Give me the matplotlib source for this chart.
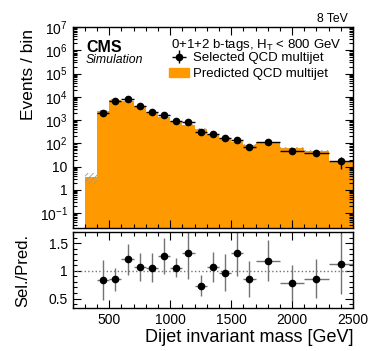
import numpy as np
import matplotlib
matplotlib.use('Agg')
import matplotlib.pyplot as plt
from matplotlib.ticker import FuncFormatter, LogLocator, MultipleLocator
from matplotlib.patches import Patch

plt.rcParams['font.family'] = ['Liberation Sans', 'DejaVu Sans']
plt.rcParams['mathtext.fontset'] = 'custom'
plt.rcParams['mathtext.rm'] = 'Liberation Sans'
plt.rcParams['mathtext.it'] = 'Liberation Sans:italic'
plt.rcParams['hatch.linewidth'] = 0.6

# Bordas dos bins (GeV)
bordas = np.array([300, 400, 500, 600, 700, 800, 900, 1000, 1100, 1200, 1300,
                   1400, 1500, 1600, 1700, 1900, 2100, 2300, 2500])

# Predicao (histograma laranja), um valor por bin
predito = [3.5, 2400, 7600, 6400, 3900, 2200, 1320, 870, 610, 410, 240,
           167, 115, 84, 110, 62, 46, 16]
predito_err_rel = [0.5, 0.08, 0.06, 0.06, 0.06, 0.06, 0.07, 0.07, 0.07, 0.08,
                   0.08, 0.08, 0.09, 0.09, 0.09, 0.1, 0.1, 0.12]

# Selecionados (pontos pretos), sem o primeiro bin
centros = [450, 550, 650, 750, 850, 950, 1050, 1150, 1250, 1350, 1450, 1550,
           1650, 1800, 2000, 2200, 2400]
meia_largura = [50] * 13 + [100] * 4
selecionado = [2000, 6670, 8130, 4190, 2320, 1670, 925, 813, 302, 257, 162,
               145, 72, 120, 48, 38, 16.6]
selecionado_err = [400, 900, 1000, 600, 350, 250, 100, 150, 50, 40, 30, 25,
                   15, 20, 10, 10, 9]

# Razao Sel./Pred.
razao = [0.83, 0.85, 1.21, 1.07, 1.06, 1.27, 1.06, 1.33, 0.73, 1.07, 0.97,
         1.32, 0.85, 1.18, 0.78, 0.86, 1.13]
razao_err = [0.36, 0.21, 0.28, 0.26, 0.27, 0.32, 0.18, 0.47, 0.19, 0.27, 0.33,
             0.41, 0.32, 0.37, 0.32, 0.35, 0.55]

LARANJA = '#ff9900'

fig = plt.figure(figsize=(3.74, 3.51), dpi=100)
ax1 = fig.add_axes([0.1944, 0.3504, 0.7495, 0.5727])
ax2 = fig.add_axes([0.1944, 0.1225, 0.7495, 0.2165])

# Painel principal
predito = np.array(predito)
predito_err = predito * np.array(predito_err_rel)
ax1.stairs(predito, bordas, fill=True, color=LARANJA, baseline=1e-3, zorder=1)
ax1.stairs(predito + predito_err, bordas, baseline=predito - predito_err,
           fill=True, facecolor='none', edgecolor='0.6', hatch='//////',
           linewidth=0, zorder=2)
pontos = ax1.errorbar(centros, selecionado, xerr=meia_largura,
                      yerr=selecionado_err, fmt='o', color='black',
                      markersize=4.5, elinewidth=1, capsize=0, zorder=3)

ax1.set_yscale('log')
ax1.set_xlim(200, 2500)
ax1.set_ylim(0.023, 1e7)
ax1.set_ylabel('Events / bin', fontsize=12.5, loc='top')
ax1.yaxis.set_label_coords(-0.13, 0.99)


def rotulo_log(v, pos):
    n = int(round(np.log10(v)))
    if n == 0:
        return '1'
    if n == 1:
        return '10'
    return r'$10^{%d}$' % n


ax1.yaxis.set_major_locator(LogLocator(base=10, numticks=20))
ax1.yaxis.set_minor_locator(LogLocator(base=10, subs=np.arange(2, 10), numticks=100))
ax1.yaxis.set_major_formatter(FuncFormatter(rotulo_log))
ax1.xaxis.set_major_locator(MultipleLocator(500))
ax1.xaxis.set_minor_locator(MultipleLocator(100))
ax1.tick_params(labelbottom=False)

# Legenda e textos
ax1.legend([pontos, Patch(color=LARANJA)],
           ['Selected QCD multijet', 'Predicted QCD multijet'],
           loc='upper left', bbox_to_anchor=(0.345, 0.875), frameon=False,
           fontsize=9.5, borderpad=0, borderaxespad=0, handlelength=1.45,
           handletextpad=0.3, labelspacing=0.25)
ax1.text(0.047, 0.935, 'CMS', transform=ax1.transAxes, fontsize=11.5,
         fontweight='bold', va='top')
ax1.text(0.047, 0.865, 'Simulation', transform=ax1.transAxes, fontsize=8.8,
         style='italic', va='top')
ax1.text(0.351, 0.95, r'0+1+2 b-tags, H$_{\mathrm{T}}$ < 800 GeV',
         transform=ax1.transAxes, fontsize=9.5, va='top')
fig.text(348 / 374, 1 - 22 / 351, '8 TeV', fontsize=8.8, ha='right',
         va='baseline')

# Painel da razao
ax2.axhline(1, color='0.45', linestyle=':', linewidth=1)
ax2.errorbar(centros, razao, xerr=meia_largura, yerr=razao_err, fmt='o',
             color='black', ecolor='0.45', markersize=4.5, elinewidth=1,
             capsize=0)
ax2.set_xlim(200, 2500)
ax2.set_ylim(0.33, 1.7)
ax2.yaxis.set_major_locator(MultipleLocator(0.5))
ax2.yaxis.set_minor_locator(MultipleLocator(0.1))
ax2.yaxis.set_major_formatter(FuncFormatter(lambda v, p: '%g' % v))
ax2.xaxis.set_major_locator(MultipleLocator(500))
ax2.xaxis.set_minor_locator(MultipleLocator(100))
ax2.set_ylabel('Sel./Pred.', fontsize=12)
ax2.yaxis.set_label_coords(-0.15, 0.5)
ax2.set_xlabel('Dijet invariant mass [GeV]', fontsize=13, loc='right')
ax2.xaxis.set_label_coords(1.0, -0.28)

for ax in (ax1, ax2):
    ax.tick_params(which='both', direction='in', top=True, right=True,
                   labelsize=10, width=0.8)
    ax.tick_params(which='major', length=6)
    ax.tick_params(which='minor', length=3)
    for s in ax.spines.values():
        s.set_linewidth(1)

plt.savefig('out.png', dpi=100)
